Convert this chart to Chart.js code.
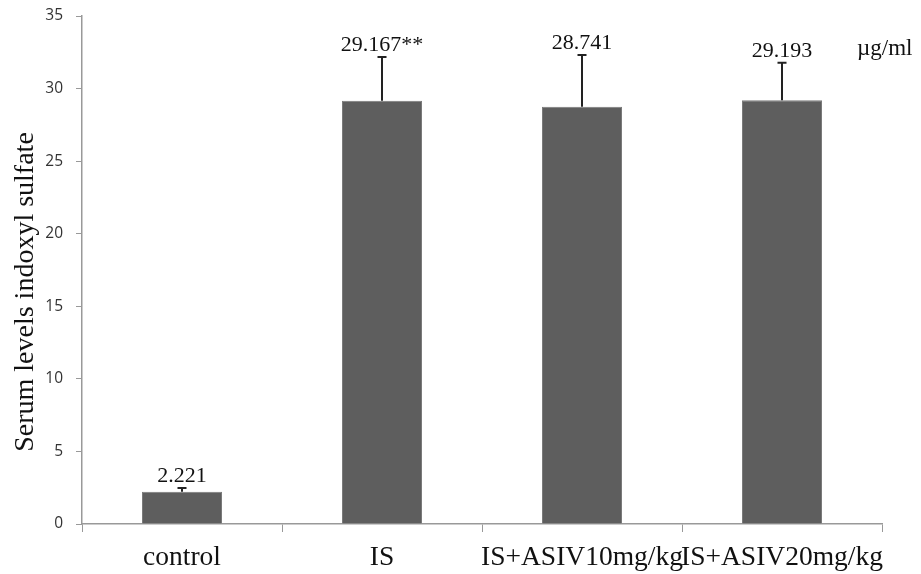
<!DOCTYPE html>
<html>
<head>
<meta charset="utf-8">
<script src="https://cdn.jsdelivr.net/npm/chart.js@4/dist/chart.umd.min.js"></script>
<style>
  html, body { margin: 0; padding: 0; background: #fff; }
  #wrap { width: 921px; height: 574px; }
</style>
</head>
<body>
<div id="wrap"><canvas id="grafico"></canvas></div>
<script>
const grupos = ['control', 'IS', 'IS+ASIV10mg/kg', 'IS+ASIV20mg/kg'];
const medias = [2.221, 29.167, 28.741, 29.193];
const desvios = [0.26, 3.0, 3.58, 2.59];
const rotulos = ['2.221', '29.167**', '28.741', '29.193'];
const unidade = 'µg/ml';
const tituloY = 'Serum levels indoxyl sulfate';

// desenha as barras de erro (só para cima), os valores, a unidade e o título do eixo
const barrasErro = {
  id: 'barrasErro',
  afterDatasetsDraw(chart) {
    const ctx = chart.ctx;
    const meta = chart.getDatasetMeta(0);
    const y = chart.scales.y;
    ctx.save();
    meta.data.forEach((bar, i) => {
      const topo = y.getPixelForValue(medias[i] + desvios[i]);
      const base = y.getPixelForValue(medias[i]);
      ctx.strokeStyle = '#222';
      ctx.lineWidth = 2;
      ctx.beginPath();
      ctx.moveTo(bar.x, base);
      ctx.lineTo(bar.x, topo);
      ctx.moveTo(bar.x - 4.5, topo);
      ctx.lineTo(bar.x + 4.5, topo);
      ctx.stroke();
      ctx.fillStyle = '#111';
      ctx.font = '22px "Liberation Serif"';
      ctx.textAlign = 'center';
      ctx.textBaseline = 'alphabetic';
      ctx.fillText(rotulos[i], bar.x, topo - 6);
    });
    ctx.font = '23px "Liberation Serif"';
    ctx.textAlign = 'left';
    ctx.textBaseline = 'middle';
    ctx.fillText(unidade, chart.chartArea.right - 25, 49);

    ctx.translate(26, 292);
    ctx.rotate(-Math.PI / 2);
    ctx.font = '28px "Liberation Serif"';
    ctx.textAlign = 'center';
    ctx.textBaseline = 'middle';
    ctx.fillText(tituloY, 0, 0);
    ctx.restore();
  }
};

new Chart(document.getElementById('grafico'), {
  type: 'bar',
  data: {
    labels: grupos,
    datasets: [{
      data: medias,
      backgroundColor: '#5e5e5e',
      borderColor: '#7a7a7a',
      borderWidth: 1,
      categoryPercentage: 1,
      barPercentage: 0.4
    }]
  },
  options: {
    responsive: true,
    maintainAspectRatio: false,
    animation: false,
    layout: { padding: { left: 0, right: 39, top: 16, bottom: 0 } },
    plugins: { legend: { display: false }, tooltip: { enabled: false } },
    scales: {
      x: {
        offset: true,
        grid: { offset: true, drawOnChartArea: false, tickLength: 8, color: '#999' },
        border: { color: '#999', width: 1.5 },
        ticks: { color: '#111', font: { family: 'Liberation Serif', size: 27.5 }, padding: 9, maxRotation: 0, autoSkip: false },
        afterFit(scale) {
          scale.height = 50;
          scale.paddingLeft = 0;
          scale.paddingRight = 0;
        }
      },
      y: {
        min: 0,
        max: 35,
        ticks: { stepSize: 5, color: '#333', font: { family: 'Open Sans', size: 15.5 }, padding: 13 },
        grid: { drawOnChartArea: false, tickLength: 6, color: '#999' },
        border: { color: '#999', width: 1.5 },
        afterFit(scale) {
          scale.width = 82;
          scale.paddingTop = 0;
          scale.paddingBottom = 0;
        }
      }
    }
  },
  plugins: [barrasErro]
});
</script>
</body>
</html>
